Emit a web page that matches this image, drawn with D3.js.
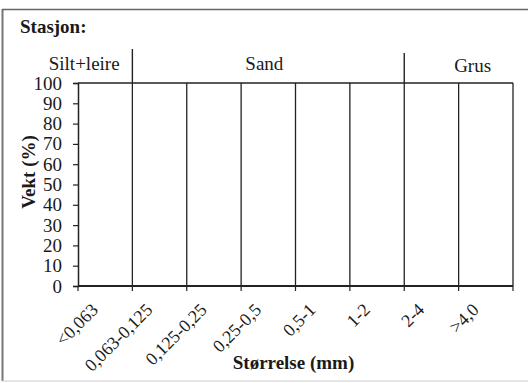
<!DOCTYPE html>
<html>
<head>
<meta charset="utf-8">
<script src="https://cdn.jsdelivr.net/npm/d3@7"></script>
<style>
  html, body { margin: 0; padding: 0; background: #fff; }
  svg { display: block; }
  text { font-family: "Liberation Serif", "Times New Roman", serif; fill: #1a1a1a; }
</style>
</head>
<body>
<svg id="chart" width="528" height="383"></svg>
<script>
// Grain size classes (mm) and their weight share (%) — blank form, no values entered yet
const sizeClasses = ["<0,063", "0,063-0,125", "0,125-0,25", "0,25-0,5", "0,5-1", "1-2", "2-4", ">4,0"];
const weightPct = [];
const yTicks = [0, 10, 20, 30, 40, 50, 60, 70, 80, 90, 100];
const groupNames = ["Silt+leire", "Sand", "Grus"];
const groupFirst = [0, 1, 6];
const groupLast = [0, 5, 7];

const svg = d3.select("#chart");
const W = 528, H = 383;
const plot = { left: 78, right: 513, top: 83, bottom: 286 };

// Outer frame of the form
svg.append("line").attr("x1", 2.5).attr("x2", 2.5).attr("y1", 9).attr("y2", 381)
  .attr("stroke", "#777").attr("stroke-width", 2);
svg.append("line").attr("x1", 2).attr("x2", W).attr("y1", 9.5).attr("y2", 9.5)
  .attr("stroke", "#666").attr("stroke-width", 1.6);
svg.append("line").attr("x1", 2).attr("x2", W).attr("y1", 381).attr("y2", 381)
  .attr("stroke", "#ccc").attr("stroke-width", 1);

svg.append("text").attr("x", 20).attr("y", 33)
  .attr("font-size", 19).attr("font-weight", "bold").text("Stasjon:");

const x = d3.scaleBand().domain(sizeClasses).range([plot.left, plot.right]).padding(0);
const y = d3.scaleLinear().domain([0, 100]).range([plot.bottom, plot.top]);

const g = svg.append("g");

// Vertical separators at every class boundary
const bounds = sizeClasses.map(c => x(c)).concat([plot.right]);
g.selectAll("line.sep").data(bounds.slice(1)).enter().append("line")
  .attr("class", "sep")
  .attr("x1", d => d).attr("x2", d => d)
  .attr("y1", y(100)).attr("y2", y(0))
  .attr("stroke", "#222").attr("stroke-width", 1.3);

// Top border of plot
g.append("line").attr("x1", plot.left).attr("x2", plot.right)
  .attr("y1", y(100)).attr("y2", y(100))
  .attr("stroke", "#222").attr("stroke-width", 1.3);

// Bars (empty until filled in)
g.selectAll("rect.bar").data(weightPct).enter().append("rect")
  .attr("class", "bar")
  .attr("x", (d, i) => x(sizeClasses[i]) + x.bandwidth() * 0.2)
  .attr("width", x.bandwidth() * 0.6)
  .attr("y", d => y(d)).attr("height", d => y(0) - y(d))
  .attr("fill", "#444");

// Y axis
const yAxis = g.append("g").attr("transform", `translate(${plot.left},0)`)
  .call(d3.axisLeft(y).tickValues(yTicks).tickSize(5).tickPadding(11));
yAxis.select(".domain").attr("stroke", "#222").attr("stroke-width", 1.5);
yAxis.selectAll(".tick line").attr("stroke", "#222").attr("stroke-width", 1.2);
yAxis.selectAll(".tick text").attr("font-size", 19).attr("font-family", "Liberation Serif, serif").attr("fill", "#1a1a1a");

// X axis: ticks on class boundaries, labels centred under classes
const xAxisG = g.append("g").attr("transform", `translate(0,${plot.bottom})`);
xAxisG.append("line").attr("x1", plot.left).attr("x2", plot.right)
  .attr("stroke", "#222").attr("stroke-width", 1.8);
xAxisG.selectAll("line.tk").data(bounds).enter().append("line")
  .attr("class", "tk")
  .attr("x1", d => d).attr("x2", d => d).attr("y1", 0).attr("y2", 5)
  .attr("stroke", "#222").attr("stroke-width", 1.2);
xAxisG.selectAll("text.cat").data(sizeClasses).enter().append("text")
  .attr("class", "cat")
  .attr("text-anchor", "end")
  .attr("font-size", 18)
  .attr("transform", d => `translate(${x(d) + x.bandwidth() / 2 - 6},${25}) rotate(-45)`)
  .text(d => d);

// Fraction group headers with dividers
const groupDividers = groupFirst.slice(1).map(i => x(sizeClasses[i]));
svg.selectAll("line.gdiv").data(groupDividers).enter().append("line")
  .attr("class", "gdiv")
  .attr("x1", d => d).attr("x2", d => d)
  .attr("y1", (d, i) => i === 0 ? 49 : 53).attr("y2", y(100))
  .attr("stroke", "#222").attr("stroke-width", 1.4);
const groupShift = [-21, -4, 14];
svg.selectAll("text.grp").data(groupNames).enter().append("text")
  .attr("class", "grp")
  .attr("text-anchor", "middle")
  .attr("font-size", 19)
  .attr("x", (d, i) => (x(sizeClasses[groupFirst[i]]) + x(sizeClasses[groupLast[i]]) + x.bandwidth()) / 2 + groupShift[i])
  .attr("y", (d, i) => i === 2 ? 72 : 70)
  .text(d => d);

// Axis titles
svg.append("text").attr("text-anchor", "middle").attr("font-size", 19).attr("font-weight", "bold")
  .attr("transform", "translate(35,172) rotate(-90)").text("Vekt (%)");
svg.append("text").attr("text-anchor", "middle").attr("font-size", 19).attr("font-weight", "bold")
  .attr("x", (plot.left + plot.right) / 2 - 2).attr("y", 369).text("Størrelse (mm)");
</script>
</body>
</html>
